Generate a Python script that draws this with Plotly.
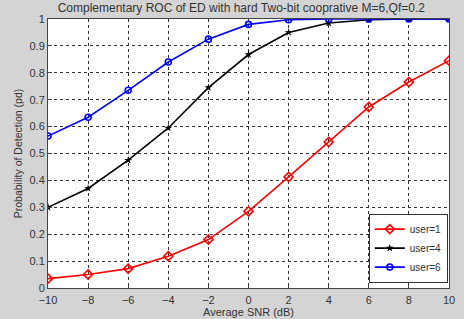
import plotly.graph_objects as go

snr = [-10, -8, -6, -4, -2, 0, 2, 4, 6, 8, 10]
pd_user1 = [0.035, 0.05, 0.072, 0.118, 0.18, 0.285, 0.413, 0.543, 0.673, 0.766, 0.845]
pd_user4 = [0.30, 0.37, 0.475, 0.595, 0.745, 0.868, 0.95, 0.985, 0.997, 1.0, 1.0]
pd_user6 = [0.565, 0.635, 0.735, 0.84, 0.925, 0.98, 0.997, 1.0, 1.0, 1.0, 1.0]
names = ["user=1", "user=4", "user=6"]
x_ticks = [-10, -8, -6, -4, -2, 0, 2, 4, 6, 8, 10]
y_ticks = [0, 0.1, 0.2, 0.3, 0.4, 0.5, 0.6, 0.7, 0.8, 0.9, 1]

fig = go.Figure()
fig.add_trace(go.Scatter(x=snr, y=pd_user1, name=names[0], mode="lines+markers",
                         line=dict(color="#ff0000", width=1.6),
                         marker=dict(symbol="diamond-open", size=7, color="#ff0000", line=dict(width=1.6))))
fig.add_trace(go.Scatter(x=snr, y=pd_user4, name=names[1], mode="lines+markers",
                         line=dict(color="#000000", width=1.6),
                         marker=dict(symbol="star", size=6, color="#000000", line=dict(width=0))))
fig.add_trace(go.Scatter(x=snr, y=pd_user6, name=names[2], mode="lines+markers",
                         line=dict(color="#0000ff", width=1.6),
                         marker=dict(symbol="circle-open", size=6, color="#0000ff", line=dict(width=1.6))))

axis_common = dict(showline=True, linecolor="#444444", linewidth=1, mirror=True,
                   ticks="inside", ticklen=4, tickcolor="#444444",
                   showgrid=True, gridcolor="#333333", griddash="dot", gridwidth=1,
                   zeroline=False, tickfont=dict(family="Arial, Liberation Sans", size=11, color="#333333"))

fig.update_layout(
    width=464, height=319,
    margin=dict(l=48, r=15, t=19, b=31, autoexpand=False),
    paper_bgcolor="#d4d4d4", plot_bgcolor="#ffffff",
    title=dict(text="Complementary ROC of ED with hard Two-bit cooprative M=6,Qf=0.2",
               x=0.52, xanchor="center", y=0.99, yanchor="top",
               font=dict(family="Arial, Liberation Sans", size=12, color="#333333")),
    xaxis=dict(range=[-10, 10], tickvals=x_ticks, ticklabelstandoff=2, ticklabeloverflow="allow",
               title=dict(text="Average SNR (dB)", standoff=0,
                          font=dict(family="Arial, Liberation Sans", size=11, color="#333333")),
               **axis_common),
    yaxis=dict(range=[0, 1], tickvals=y_ticks, ticktext=[("%g" % v) for v in y_ticks],
               title=dict(text="Probability of Detection (pd)", standoff=4,
                          font=dict(family="Arial, Liberation Sans", size=10.5, color="#333333")),
               **axis_common),
    legend=dict(x=0.997, y=0.02, xanchor="right", yanchor="bottom",
                bgcolor="#ffffff", bordercolor="#333333", borderwidth=1,
                font=dict(family="Arial, Liberation Sans", size=10, color="#333333"),
                tracegroupgap=0, itemwidth=30),
    showlegend=True,
)

fig.write_html("out.html", config={"displayModeBar": False},
               post_script="document.body.style.margin='0';document.body.style.background='#d4d4d4';")
